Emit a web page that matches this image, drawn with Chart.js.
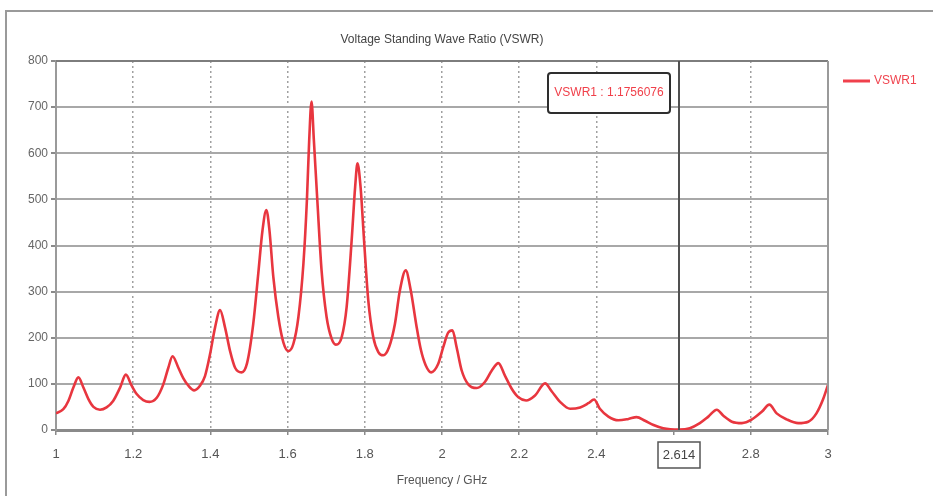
<!DOCTYPE html>
<html>
<head>
<meta charset="utf-8">
<script src="https://cdn.jsdelivr.net/npm/chart.js@4/dist/chart.umd.min.js"></script>
<style>
  html, body { margin: 0; padding: 0; background: #fff; }
  #wrap { position: relative; width: 933px; height: 496px; overflow: hidden; background: #fff; }
  #frame { position: absolute; left: 5px; top: 10px; width: 960px; height: 520px;
           border-left: 2px solid #9a9a9a; border-top: 2px solid #9a9a9a; }
  canvas { position: absolute; left: 0; top: 0; }
</style>
</head>
<body>
<div id="wrap">
  <div id="frame"></div>
  <canvas id="vswrChart" width="933" height="496"></canvas>
</div>
<script>
// Sweep frequencies (GHz) and the VSWR measured at each one
const freqGHz = [
  1.000, 1.019, 1.032, 1.045, 1.058, 1.071, 1.084, 1.097, 1.114, 1.131,
  1.148, 1.166, 1.181, 1.196, 1.209, 1.226, 1.242, 1.261, 1.278, 1.291,
  1.302, 1.317, 1.330, 1.343, 1.358, 1.373, 1.386, 1.399, 1.412, 1.425,
  1.438, 1.451, 1.464, 1.481, 1.495, 1.511, 1.524, 1.535, 1.545, 1.553,
  1.563, 1.576, 1.589, 1.602, 1.615, 1.628, 1.641, 1.650, 1.656, 1.662,
  1.668, 1.677, 1.688, 1.701, 1.714, 1.725, 1.740, 1.753, 1.766, 1.775,
  1.781, 1.789, 1.798, 1.809, 1.822, 1.835, 1.848, 1.863, 1.878, 1.891,
  1.906, 1.919, 1.933, 1.945, 1.958, 1.972, 1.990, 2.003, 2.016, 2.027,
  2.038, 2.051, 2.068, 2.090, 2.111, 2.129, 2.146, 2.163, 2.181, 2.198,
  2.218, 2.241, 2.267, 2.284, 2.306, 2.332, 2.358, 2.379, 2.394, 2.409,
  2.431, 2.457, 2.483, 2.504, 2.526, 2.548, 2.573, 2.614, 2.642, 2.668,
  2.690, 2.712, 2.729, 2.751, 2.777, 2.803, 2.829, 2.848, 2.867, 2.893,
  2.923, 2.949, 2.970, 2.987, 3.000
];
const vswr = [
  36, 45, 63, 92, 114, 92, 67, 50, 44, 49,
  63, 92, 120, 96, 78, 65, 61, 70, 99, 135,
  160, 135, 112, 96, 86, 96, 117, 164, 222, 260,
  222, 171, 135, 125, 145, 230, 339, 433, 477, 433,
  332, 245, 190, 171, 187, 245, 361, 498, 629, 712,
  629, 498, 346, 245, 198, 185, 201, 267, 412, 527,
  578, 527, 412, 281, 201, 169, 162, 180, 230, 303,
  346, 303, 230, 175, 140, 125, 143, 179, 211, 216,
  179, 129, 99, 91, 104, 129, 145, 118, 89, 71,
  64, 75, 101, 84, 61, 46, 49, 58, 66, 46,
  29, 21, 24, 28, 20, 11, 4, 1.1756076, 4, 15,
  29, 44, 31, 18, 15, 23, 40, 55, 36, 23,
  15, 18, 36, 66, 98
];

// Marker placed on the sweep
const markerName = 'VSWR1';
const markerFreq = 2.614;
const markerValue = 1.1756076;

// Axis settings
const xMin = 1, xMax = 3, xStep = 0.2;
const yMin = 0, yMax = 800, yStep = 100;

const chartTitle = 'Voltage Standing Wave Ratio (VSWR)';
const xAxisTitle = 'Frequency / GHz';

const FONT = '"Liberation Sans", Arial, sans-serif';
const RED = '#e8363f';

const points = freqGHz.map((f, i) => ({ x: f, y: vswr[i] }));

function near(a, b) { return Math.abs(a - b) < 1e-6; }

const decorations = {
  id: 'decorations',
  afterDraw(chart) {
    const { ctx, chartArea: a, scales: { x } } = chart;
    ctx.save();

    // plot frame (top and right edges)
    ctx.strokeStyle = '#7d7d7d';
    ctx.lineWidth = 2;
    ctx.beginPath();
    ctx.moveTo(a.left, a.top);
    ctx.lineTo(a.right, a.top);
    ctx.stroke();
    ctx.strokeStyle = '#9a9a9a';
    ctx.beginPath();
    ctx.moveTo(a.right, a.top);
    ctx.lineTo(a.right, a.bottom);
    ctx.stroke();

    // title, centred over the plot
    ctx.fillStyle = '#444';
    ctx.font = '12px ' + FONT;
    ctx.textAlign = 'center';
    ctx.textBaseline = 'middle';
    ctx.fillText(chartTitle, (a.left + a.right) / 2, 40);

    // marker line
    const mx = Math.round(x.getPixelForValue(markerFreq));
    ctx.strokeStyle = '#505050';
    ctx.lineWidth = 2;
    ctx.beginPath();
    ctx.moveTo(mx, a.top);
    ctx.lineTo(mx, a.bottom);
    ctx.stroke();

    // marker readout box
    const label = markerName + ' : ' + markerValue;
    ctx.font = '12px ' + FONT;
    const bw = 122, bh = 40;
    const bx = mx - 9 - bw, by = a.top + 12;
    ctx.fillStyle = '#fff';
    ctx.strokeStyle = '#2e2e2e';
    ctx.lineWidth = 2;
    ctx.beginPath();
    ctx.roundRect(bx, by, bw, bh, 3);
    ctx.fill();
    ctx.stroke();
    ctx.fillStyle = '#f0404a';
    ctx.fillText(label, bx + bw / 2, by + bh / 2);

    // boxed marker frequency on the x axis
    ctx.font = '13px ' + FONT;
    const tw = 42, th = 26;
    ctx.fillStyle = '#fff';
    ctx.fillRect(mx - tw / 2, 442, tw, th);
    ctx.strokeStyle = '#555';
    ctx.lineWidth = 1.5;
    ctx.strokeRect(mx - tw / 2, 442, tw, th);
    ctx.fillStyle = '#444';
    ctx.fillText(String(markerFreq), mx, 455);

    // legend
    const ly = 81;
    ctx.strokeStyle = '#f0404c';
    ctx.lineWidth = 3;
    ctx.beginPath();
    ctx.moveTo(a.right + 15, ly);
    ctx.lineTo(a.right + 42, ly);
    ctx.stroke();
    ctx.fillStyle = '#f0444f';
    ctx.font = '12px ' + FONT;
    ctx.textAlign = 'left';
    ctx.fillText(chart.data.datasets[0].label, a.right + 46, ly);

    ctx.restore();
  }
};

new Chart(document.getElementById('vswrChart'), {
  type: 'line',
  data: {
    datasets: [{
      label: markerName,
      data: points,
      borderColor: RED,
      borderWidth: 2.6,
      pointRadius: 0,
      fill: false,
      cubicInterpolationMode: 'monotone'
    }]
  },
  options: {
    responsive: false,
    animation: false,
    layout: { padding: { top: 61, right: 105, left: 0, bottom: 0 } },
    plugins: {
      legend: { display: false },
      title: { display: false },
      tooltip: { enabled: false }
    },
    scales: {
      x: {
        type: 'linear',
        min: xMin,
        max: xMax,
        afterFit(scale) { scale.height = 66; },
        ticks: {
          stepSize: xStep,
          autoSkip: false,
          maxRotation: 0,
          padding: 12,
          color: '#555',
          font: { family: FONT, size: 13 },
          callback(v) {
            if (near(v, 2.6)) return '';
            return String(Number(v.toFixed(1)));
          }
        },
        grid: {
          color(c) {
            const v = c.tick ? c.tick.value : null;
            if (v === null || near(v, xMin) || near(v, xMax) || near(v, 2.6)) return 'rgba(0,0,0,0)';
            return '#a0a0a0';
          },
          lineWidth: 1.5,
          tickLength: 5,
          tickColor: '#8a8a8a',
          tickWidth: 1.5
        },
        border: { display: true, color: '#8a8a8a', width: 3, dash: [2, 3] },
        title: {
          display: true,
          text: xAxisTitle,
          color: '#555',
          font: { family: FONT, size: 12 },
          padding: { top: 4, bottom: 8 }
        }
      },
      y: {
        min: yMin,
        max: yMax,
        afterFit(scale) { scale.width = 56; },
        ticks: {
          stepSize: yStep,
          padding: 3,
          color: '#666',
          font: { family: FONT, size: 12 }
        },
        grid: {
          color: '#a8a8a8',
          lineWidth: 2,
          tickLength: 5,
          tickColor: '#8a8a8a'
        },
        border: { display: true, color: '#9a9a9a', width: 2 }
      }
    }
  },
  plugins: [decorations]
});
</script>
</body>
</html>
